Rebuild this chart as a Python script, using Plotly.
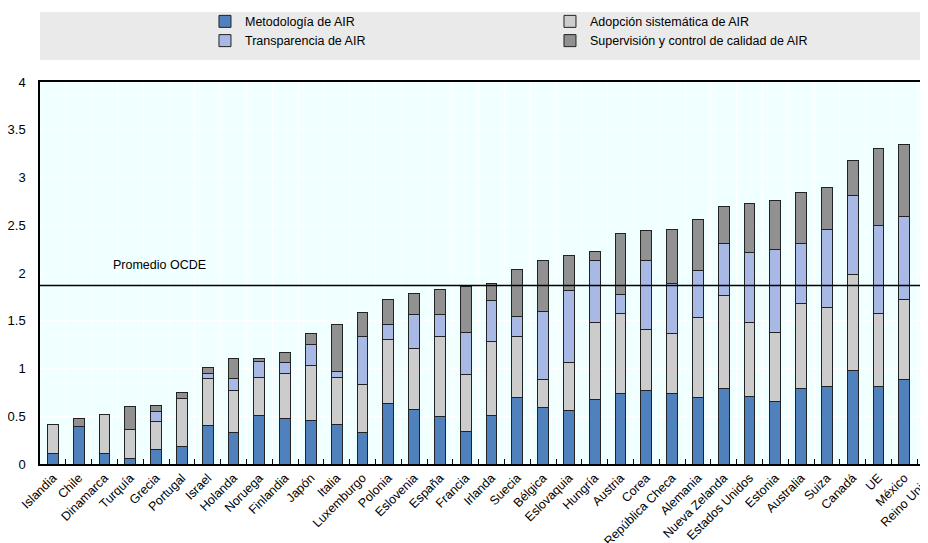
import plotly.graph_objects as go

categories = ["Islandia", "Chile", "Dinamarca", "Turquía", "Grecia", "Portugal", "Israel",
              "Holanda", "Noruega", "Finlandia", "Japón", "Italia", "Luxemburgo", "Polonia",
              "Eslovenia", "España", "Francia", "Irlanda", "Suecia", "Bélgica", "Eslovaquia",
              "Hungría", "Austria", "Corea", "República Checa", "Alemania", "Nueva Zelanda",
              "Estados Unidos", "Estonia", "Australia", "Suiza", "Canadá", "UE", "México",
              "Reino Unido"]

metodologia = [0.11, 0.39, 0.11, 0.06, 0.15, 0.18, 0.40, 0.33, 0.51, 0.48, 0.46, 0.41, 0.33,
               0.63, 0.57, 0.50, 0.34, 0.51, 0.70, 0.59, 0.56, 0.68, 0.74, 0.77, 0.74, 0.70,
               0.79, 0.71, 0.65, 0.79, 0.81, 0.98, 0.81, 0.89, 0.97]
adopcion = [0.30, 0.00, 0.41, 0.30, 0.30, 0.51, 0.50, 0.44, 0.40, 0.47, 0.57, 0.50, 0.50,
            0.67, 0.64, 0.83, 0.60, 0.77, 0.64, 0.30, 0.50, 0.80, 0.84, 0.64, 0.63, 0.83,
            0.97, 0.77, 0.73, 0.89, 0.83, 1.00, 0.77, 0.83, 0.83]
transparencia = [0.00, 0.00, 0.00, 0.00, 0.10, 0.00, 0.05, 0.13, 0.16, 0.11, 0.22, 0.06, 0.50,
                 0.16, 0.36, 0.24, 0.44, 0.43, 0.20, 0.71, 0.76, 0.65, 0.19, 0.72, 0.52, 0.50,
                 0.55, 0.73, 0.87, 0.63, 0.82, 0.83, 0.92, 0.87, 0.79]
supervision = [0.00, 0.09, 0.00, 0.24, 0.06, 0.06, 0.06, 0.21, 0.04, 0.11, 0.12, 0.49, 0.26,
               0.26, 0.22, 0.26, 0.48, 0.18, 0.50, 0.53, 0.36, 0.09, 0.64, 0.32, 0.57, 0.53,
               0.39, 0.52, 0.51, 0.53, 0.44, 0.37, 0.80, 0.76, 0.81]

oecd_average = 1.87
oecd_label = "Promedio OCDE"

series = [
    ("Metodología de AIR", metodologia, "#4F81BD"),
    ("Adopción sistemática de AIR", adopcion, "#CCCCCC"),
    ("Transparencia de AIR", transparencia, "#A7B9E4"),
    ("Supervisión y control de calidad de AIR", supervision, "#919191"),
]

FONT = "Liberation Sans, Arial, sans-serif"

fig = go.Figure()
for name, vals, color in series:
    fig.add_trace(go.Bar(
        x=categories, y=vals, name=name,
        marker=dict(color=color, line=dict(color="#222222", width=1)),
    ))

fig.add_hline(y=oecd_average, line=dict(color="black", width=1.5))
fig.add_annotation(x=2.25, y=oecd_average, yshift=11, text=oecd_label, showarrow=False,
                   xanchor="left", yanchor="bottom", font=dict(size=12.5, color="black"))

# legend background box
fig.add_shape(type="rect", xref="paper", yref="paper", x0=0, x1=1, y0=1.0576, y1=1.1832,
              fillcolor="#EAEAEA", line=dict(width=0), layer="below")

fig.update_layout(
    width=936, height=543,
    margin=dict(l=32, r=1, t=74, b=87, autoexpand=False),
    barmode="stack", bargap=0.58,
    paper_bgcolor="white", plot_bgcolor="#F0FFFF",
    font=dict(family=FONT, size=12.5, color="black"),
    showlegend=True,
    legend=dict(orientation="h", x=0.1827, y=1.197, xanchor="left", yanchor="top",
                entrywidth=300, entrywidthmode="pixels", traceorder="normal",
                bgcolor="rgba(0,0,0,0)", font=dict(size=12.5), tracegroupgap=0),
    xaxis=dict(range=[-0.5, 34.5], tickson="boundaries", ticks="inside", ticklen=5,
               tickcolor="black", showgrid=True, gridcolor="white", gridwidth=1,
               showline=True, linecolor="black", linewidth=1.5, mirror=True,
               tickangle=-45, tickfont=dict(size=12.5), fixedrange=True),
    yaxis=dict(range=[0, 4], dtick=0.5, showgrid=True, gridcolor="white", gridwidth=1,
               showline=True, linecolor="black", linewidth=1.5, ticks="",
               ticklabelstandoff=10, tickfont=dict(size=13), zeroline=False),
)

fig.write_html("out.html")
